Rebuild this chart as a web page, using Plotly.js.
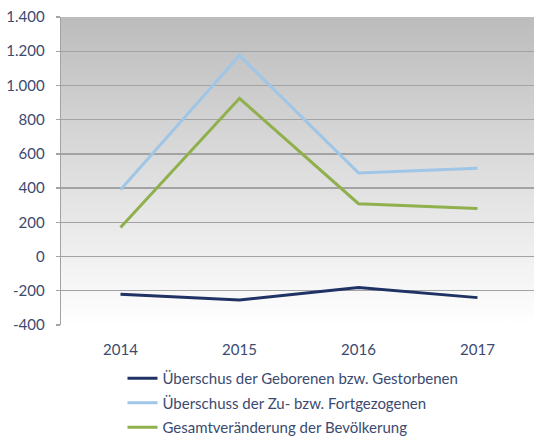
<!DOCTYPE html>
<html>
<head>
<meta charset="utf-8">
<script src="https://cdn.plot.ly/plotly-3.0.1.min.js"></script>
<style>html,body{margin:0;padding:0;background:#fff;}#chart{width:534px;height:436px;}</style>
</head>
<body>
<div id="chart"></div>
<script>
var years = ['2014', '2015', '2016', '2017'];
var geburten = [-221, -254, -181, -240];
var wanderung = [391, 1175, 489, 516];
var gesamt = [170, 925, 309, 281];
var seriesNames = [
  'Überschus der Geborenen bzw. Gestorbenen',
  'Überschuss der Zu- bzw. Fortgezogenen',
  'Gesamtveränderung der Bevölkerung'
];
var yTickVals = [-400, -200, 0, 200, 400, 600, 800, 1000, 1200, 1400];
var yTickText = ['-400', '-200', '0', '200', '400', '600', '800', '1.000', '1.200', '1.400'];

var textColor = '#3b4a70';
var gridColor = '#a3a3a3';
var fontFam = 'Lato, "Open Sans", sans-serif';

var svg = '<svg xmlns="http://www.w3.org/2000/svg" width="100" height="100" preserveAspectRatio="none">' +
  '<defs><linearGradient id="g" x1="0" y1="0" x2="0" y2="1">' +
  '<stop offset="0" stop-color="#bcbcbc"/><stop offset="1" stop-color="#ffffff"/>' +
  '</linearGradient></defs><rect width="100" height="100" fill="url(#g)"/></svg>';
var bgSrc = 'data:image/svg+xml;charset=utf-8,' + encodeURIComponent(svg);

var traces = [
  {x: years, y: geburten, name: seriesNames[0], legendgroup: 'a', type: 'scatter', mode: 'lines',
   line: {color: '#1f3263', width: 3}},
  {x: years, y: wanderung, name: seriesNames[1], legendgroup: 'b', type: 'scatter', mode: 'lines',
   line: {color: '#9fc6e6', width: 3}},
  {x: years, y: gesamt, name: seriesNames[2], legendgroup: 'c', type: 'scatter', mode: 'lines',
   line: {color: '#8fb04c', width: 3}}
];

var layout = {
  width: 534, height: 436,
  margin: {l: 61, r: 0, t: 17, b: 111, autoexpand: false},
  paper_bgcolor: '#ffffff',
  plot_bgcolor: 'rgba(0,0,0,0)',
  font: {family: fontFam, size: 15, color: textColor},
  showlegend: true,
  legend: {
    orientation: 'v', x: 0.13, xanchor: 'left', y: -0.12, yanchor: 'top',
    font: {family: fontFam, size: 15, color: textColor},
    bgcolor: 'rgba(0,0,0,0)', tracegroupgap: 2, traceorder: 'grouped'
  },
  images: [{
    source: bgSrc, xref: 'paper', yref: 'paper', x: 0, y: 1, sizex: 1, sizey: 1,
    xanchor: 'left', yanchor: 'top', sizing: 'stretch', layer: 'below'
  }],
  xaxis: {
    type: 'category', range: [-0.5, 3.475],
    showgrid: false, zeroline: false, showline: false, ticks: '',
    ticklabelstandoff: 14,
    tickfont: {family: fontFam, size: 15, color: textColor}
  },
  yaxis: {
    range: [-400, 1400], tickmode: 'array', tickvals: yTickVals, ticktext: yTickText,
    showgrid: true, gridcolor: gridColor, gridwidth: 1.3,
    zeroline: false, showline: true, linecolor: gridColor, linewidth: 1.3,
    ticks: 'outside', ticklen: 4, tickcolor: gridColor, tickwidth: 1.3,
    ticklabelstandoff: 8,
    tickfont: {family: fontFam, size: 15, color: textColor}
  }
};

Plotly.newPlot('chart', traces, layout, {displayModeBar: false, staticPlot: true});
</script>
</body>
</html>
